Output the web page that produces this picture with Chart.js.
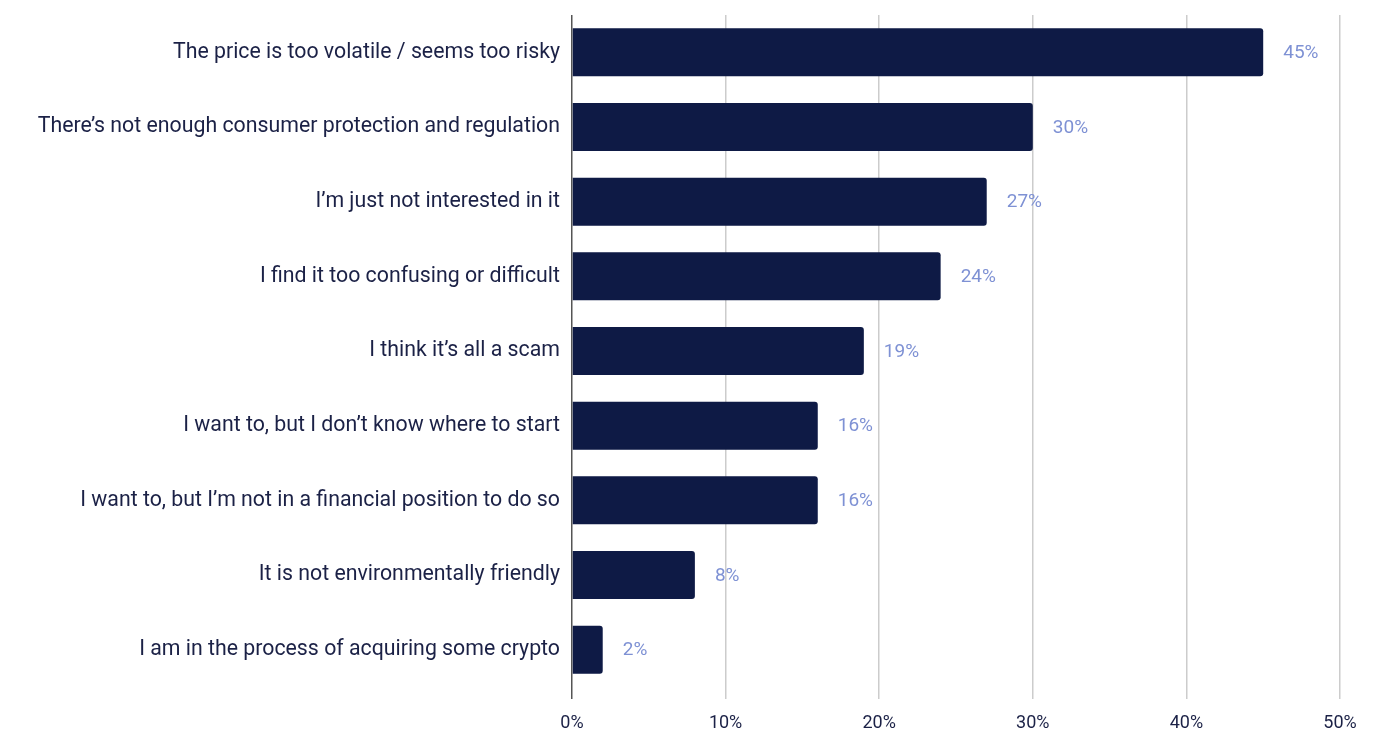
<!DOCTYPE html>
<html>
<head>
<meta charset="utf-8">
<script src="https://cdn.jsdelivr.net/npm/chart.js@4"></script>
<style>
  html, body { margin: 0; padding: 0; background: #fff; }
  #wrap { width: 1399px; height: 731px; position: relative; }
</style>
</head>
<body>
<div id="wrap"><canvas id="chart"></canvas></div>
<script>
// categories and values (percent)
const reasons = [
  "The price is too volatile / seems too risky",
  "There\u2019s not enough consumer protection and regulation",
  "I\u2019m just not interested in it",
  "I find it too confusing or difficult",
  "I think it\u2019s all a scam",
  "I want to, but I don\u2019t know where to start",
  "I want to, but I\u2019m not in a financial position to do so",
  "It is not environmentally friendly",
  "I am in the process of acquiring some crypto"
];
const shares = [45, 30, 27, 24, 19, 16, 16, 8, 2];
const xTicks = [0, 10, 20, 30, 40, 50];

const NAVY = "#0e1a45";
const TEXT = "#1b2146";
const LABEL = "#7e91d4";

// value labels at the end of each bar
const valueLabels = {
  id: "valueLabels",
  afterDatasetsDraw(chart) {
    const ctx = chart.ctx;
    const meta = chart.getDatasetMeta(0);
    ctx.save();
    ctx.font = "19px Roboto";
    ctx.fillStyle = LABEL;
    ctx.textAlign = "left";
    ctx.textBaseline = "middle";
    meta.data.forEach((bar, i) => {
      ctx.fillText(shares[i] + "%", bar.x + 20, bar.y + 1);
    });
    ctx.restore();
  }
};

new Chart(document.getElementById("chart"), {
  type: "bar",
  data: {
    labels: reasons,
    datasets: [{
      data: shares,
      backgroundColor: NAVY,
      borderRadius: 3,
      barPercentage: 0.643,
      categoryPercentage: 1
    }]
  },
  options: {
    indexAxis: "y",
    responsive: true,
    maintainAspectRatio: false,
    animation: false,
    layout: { padding: { top: 15, right: 59, left: 0, bottom: 0 } },
    plugins: { legend: { display: false }, tooltip: { enabled: false } },
    scales: {
      x: {
        min: 0,
        max: 50,
        afterBuildTicks: s => { s.ticks = xTicks.map(v => ({ value: v })); },
        afterFit: s => { s.height = 44; },
        border: { display: false },
        grid: {
          color: c => c.index === 0 ? "#555555" : "#cccccc",
          lineWidth: 1.5,
          drawTicks: true,
          tickLength: 12
        },
        ticks: {
          callback: v => v + "%",
          color: TEXT,
          font: { family: "Roboto", size: 18 },
          padding: 14,
          maxRotation: 0
        }
      },
      y: {
        afterFit: s => { s.width = 572; s.paddingTop = 0; s.paddingBottom = 0; },
        border: { display: false },
        grid: { display: false },
        ticks: {
          color: TEXT,
          font: { family: "Roboto", size: 21.3 },
          padding: 4
        }
      }
    }
  },
  plugins: [valueLabels]
});
</script>
</body>
</html>
